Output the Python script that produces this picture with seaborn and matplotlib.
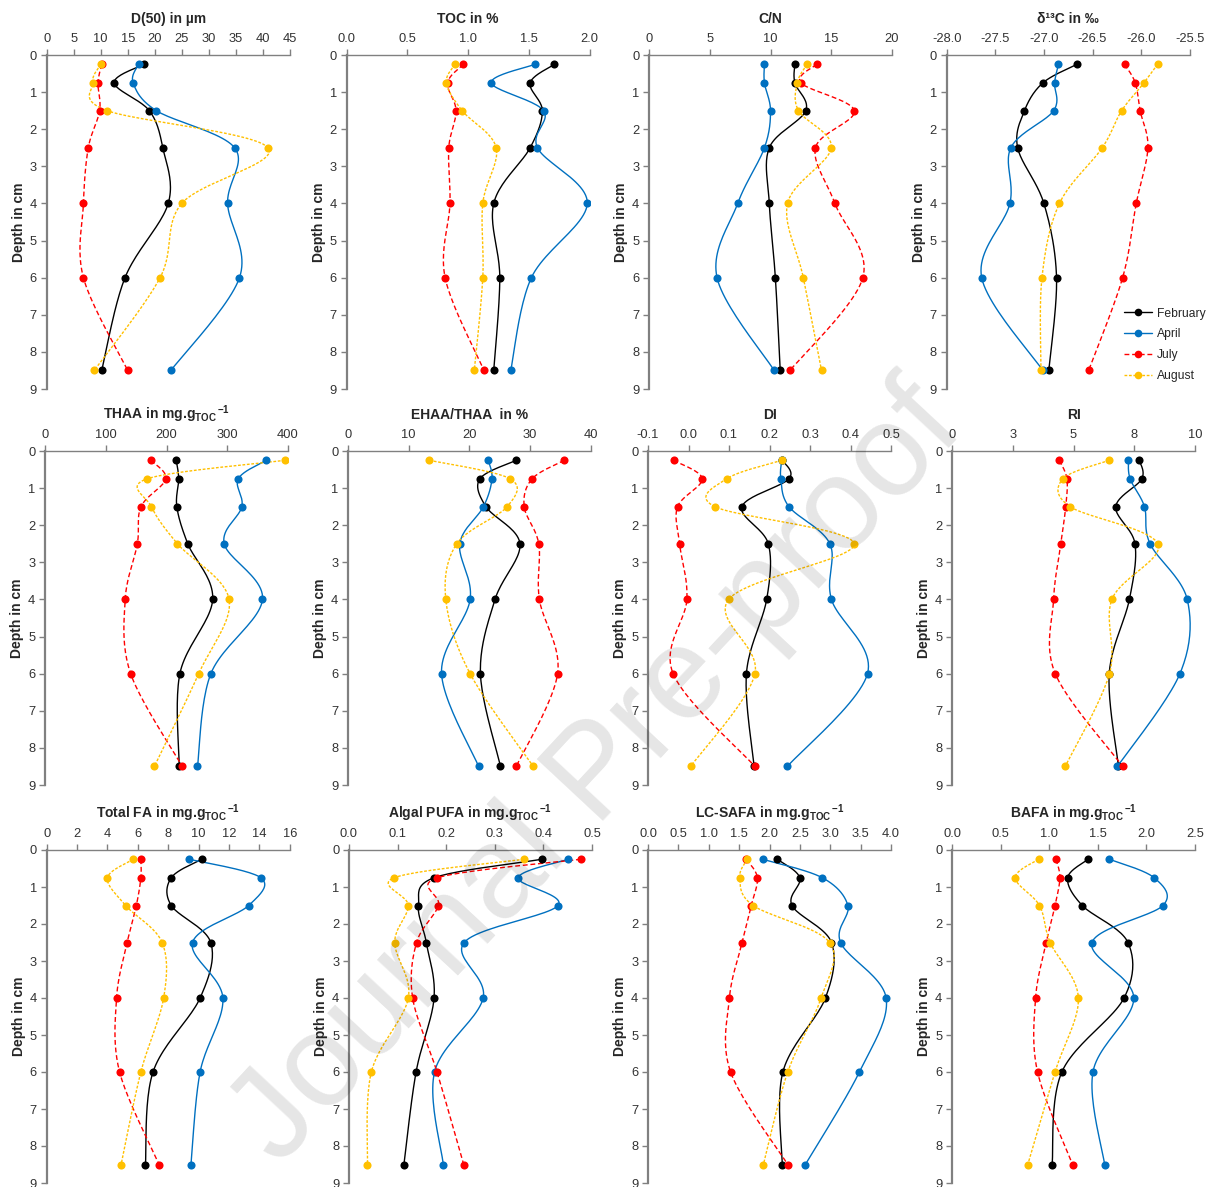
import numpy as np
import pandas as pd
import matplotlib
matplotlib.use("Agg")
import matplotlib.pyplot as plt
from matplotlib.lines import Line2D
import seaborn as sns

# ---------------- data ----------------
DEPTH = [0.25, 0.75, 1.5, 2.5, 4, 6, 8.5]
MONTHS = ["February", "April", "July", "August"]

D50 = {"February": [18.0, 12.5, 19.0, 21.5, 22.5, 14.5, 10.2],
       "April":    [17.0, 16.0, 20.3, 34.8, 33.5, 35.7, 23.0],
       "July":     [10.2, 9.5, 9.8, 7.7, 6.8, 6.8, 15.0],
       "August":   [10.0, 8.5, 11.2, 41.0, 25.0, 21.0, 8.8]}
TOC = {"February": [1.71, 1.51, 1.61, 1.51, 1.21, 1.26, 1.21],
       "April":    [1.55, 1.19, 1.62, 1.57, 1.98, 1.52, 1.35],
       "July":     [0.96, 0.83, 0.90, 0.84, 0.85, 0.81, 1.13],
       "August":   [0.89, 0.82, 0.95, 1.23, 1.12, 1.12, 1.05]}
CN = {"February": [12.0, 12.0, 12.9, 9.9, 9.9, 10.4, 10.8],
      "April":    [9.5, 9.5, 10.0, 9.5, 7.3, 5.6, 10.3],
      "July":     [13.8, 12.5, 16.9, 13.7, 15.3, 17.6, 11.6],
      "August":   [13.0, 12.2, 12.3, 15.0, 11.4, 12.7, 14.2]}
D13C = {"February": [-26.66, -27.01, -27.20, -27.27, -27.00, -26.87, -26.95],
        "April":    [-26.85, -26.89, -26.90, -27.34, -27.35, -27.64, -27.01],
        "July":     [-26.17, -26.06, -26.01, -25.93, -26.05, -26.19, -26.54],
        "August":   [-25.83, -25.97, -26.20, -26.40, -26.84, -27.02, -27.03]}
THAA = {"February": [216, 220, 217, 235, 276, 222, 221],
        "April":    [364, 318, 324, 295, 358, 273, 251],
        "July":     [174, 199, 158, 152, 132, 141, 226],
        "August":   [395, 168, 175, 218, 303, 253, 180]}
EHAA = {"February": [27.7, 21.7, 22.7, 28.3, 24.2, 21.8, 25.1],
        "April":    [23.1, 23.7, 22.3, 18.4, 20.1, 15.4, 21.5],
        "July":     [35.6, 30.3, 29.0, 31.4, 31.5, 34.5, 27.7],
        "August":   [13.4, 26.7, 26.2, 17.9, 16.1, 20.1, 30.5]}
DI = {"February": [0.232, 0.248, 0.132, 0.197, 0.193, 0.143, 0.162],
      "April":    [0.230, 0.228, 0.248, 0.349, 0.353, 0.442, 0.244],
      "July":     [-0.037, 0.034, -0.027, -0.022, -0.004, -0.038, 0.164],
      "August":   [0.230, 0.094, 0.065, 0.409, 0.099, 0.164, 0.005]}
RI = {"February": [7.71, 7.81, 6.74, 7.53, 7.30, 6.47, 6.85],
      "April":    [7.26, 7.33, 7.92, 8.15, 9.68, 9.38, 6.81],
      "July":     [4.42, 4.73, 4.68, 4.48, 4.18, 4.25, 7.03],
      "August":   [6.47, 4.56, 4.86, 8.47, 6.58, 6.48, 4.66]}
TFA = {"February": [10.2, 8.2, 8.2, 10.8, 10.1, 7.0, 6.5],
       "April":    [9.4, 14.1, 13.3, 9.6, 11.6, 10.1, 9.5],
       "July":     [6.2, 6.2, 5.9, 5.3, 4.6, 4.8, 7.4],
       "August":   [5.7, 4.0, 5.2, 7.6, 7.7, 6.2, 4.9]}
PUFA = {"February": [0.397, 0.175, 0.143, 0.159, 0.175, 0.138, 0.113],
        "April":    [0.451, 0.348, 0.430, 0.237, 0.276, 0.176, 0.194],
        "July":     [0.477, 0.182, 0.184, 0.139, 0.131, 0.181, 0.236],
        "August":   [0.360, 0.093, 0.122, 0.094, 0.122, 0.046, 0.038]}
SAFA = {"February": [2.13, 2.50, 2.37, 3.02, 2.92, 2.22, 2.21],
        "April":    [1.89, 2.87, 3.29, 3.17, 3.92, 3.48, 2.59],
        "July":     [1.62, 1.80, 1.70, 1.55, 1.34, 1.36, 2.30],
        "August":   [1.63, 1.51, 1.73, 2.99, 2.85, 2.30, 1.90]}
BAFA = {"February": [1.40, 1.19, 1.34, 1.81, 1.77, 1.13, 1.03],
        "April":    [1.62, 2.08, 2.17, 1.44, 1.87, 1.45, 1.57],
        "July":     [1.07, 1.11, 1.06, 0.97, 0.86, 0.88, 1.24],
        "August":   [0.89, 0.65, 0.90, 1.01, 1.30, 1.06, 0.78]}

UNIT = r"mg.g$_{\mathbf{TOC}}$$^{\,\mathbf{-1}}$"
TITLES = ["D(50) in µm", "TOC in %", "C/N", "δ¹³C in ‰",
          "THAA in " + UNIT, "EHAA/THAA  in %", "DI", "RI",
          "Total FA in " + UNIT, "Algal PUFA in " + UNIT,
          "LC-SAFA in " + UNIT, "BAFA in " + UNIT]
DATASETS = [D50, TOC, CN, D13C, THAA, EHAA, DI, RI, TFA, PUFA, SAFA, BAFA]
XTICKS = [[0, 5, 10, 15, 20, 25, 30, 35, 40, 45],
          [0.0, 0.5, 1.0, 1.5, 2.0],
          [0, 5, 10, 15, 20],
          [-28.0, -27.5, -27.0, -26.5, -26.0, -25.5],
          [0, 100, 200, 300, 400],
          [0, 10, 20, 30, 40],
          [-0.1, 0.0, 0.1, 0.2, 0.3, 0.4, 0.5],
          [0, 2.5, 5, 7.5, 10],
          [0, 2, 4, 6, 8, 10, 12, 14, 16],
          [0.0, 0.1, 0.2, 0.3, 0.4, 0.5],
          [0.0, 0.5, 1.0, 1.5, 2.0, 2.5, 3.0, 3.5, 4.0],
          [0.0, 0.5, 1.0, 1.5, 2.0, 2.5]]
XTICKLABELS = [None, "%.1f", None, "%.1f", None, None, "%.1f",
               ["0", "3", "5", "8", "10"], None, "%.1f", "%.1f", "%.1f"]
YTICKS = [0, 1, 2, 3, 4, 5, 6, 7, 8, 9]

# ---------------- style ----------------
sns.set_theme(style="white")
plt.rcParams["font.family"] = ["Liberation Sans", "DejaVu Sans"]
plt.rcParams["mathtext.fontset"] = "custom"
plt.rcParams["mathtext.rm"] = "Liberation Sans"
plt.rcParams["mathtext.bf"] = "Liberation Sans:bold"
plt.rcParams["mathtext.it"] = "Liberation Sans:italic"
plt.rcParams["axes.unicode_minus"] = False

COLORS = {"February": "#000000", "April": "#0070C0", "July": "#FF0000", "August": "#FFC000"}
LSTYLE = {"February": "-", "April": "-", "July": (0, (3.5, 2.0)), "August": (0, (2.0, 1.2))}

W_PX, H_PX = 1213, 1187
fig = plt.figure(figsize=(W_PX / 100, H_PX / 100), dpi=100)

ROW_TB = [(55, 389), (451, 785), (850, 1183)]
COL_L = [[46.7, 346.7, 649, 946.7], [45, 348, 648, 952], [46.7, 349, 648, 952]]
AX_W = 243.0


def bezier_path(xs, ys, x0, x1, w, h, n=24):
    px = (np.asarray(xs, float) - x0) / (x1 - x0) * w
    py = np.asarray(ys, float) / 9.0 * h
    P = np.column_stack([px, py])
    out = [P[0]]
    m = len(P)
    for i in range(m - 1):
        p0 = P[i - 1] if i > 0 else P[i]
        p1, p2 = P[i], P[i + 1]
        p3 = P[i + 2] if i + 2 < m else P[i + 1]
        c1 = p1 + (p2 - p0) / 6.0
        c2 = p2 - (p3 - p1) / 6.0
        t = np.linspace(0, 1, n)[1:, None]
        seg = ((1 - t) ** 3) * p1 + 3 * ((1 - t) ** 2) * t * c1 + 3 * (1 - t) * t ** 2 * c2 + t ** 3 * p2
        out.extend(seg)
    out = np.array(out)
    return out[:, 0] / w * (x1 - x0) + x0, out[:, 1] / h * 9.0


for k, (title, data) in enumerate(zip(TITLES, DATASETS)):
    r, c = divmod(k, 4)
    top, bot = ROW_TB[r]
    left = COL_L[r][c]
    ax = fig.add_axes([left / W_PX, 1 - bot / H_PX, AX_W / W_PX, (bot - top) / H_PX])
    ticks = XTICKS[k]
    x0, x1 = ticks[0], ticks[-1]
    h_px = bot - top
    for mth in MONTHS:
        sx, sy = bezier_path(data[mth], DEPTH, x0, x1, AX_W, h_px)
        ax.plot(sx, sy, color=COLORS[mth], linestyle=LSTYLE[mth], linewidth=1.0,
                solid_capstyle="butt", zorder=2)
        df = pd.DataFrame({"x": data[mth], "y": DEPTH})
        sns.scatterplot(data=df, x="x", y="y", ax=ax, color=COLORS[mth], s=34,
                        linewidth=0, zorder=3, legend=False)
    ax.set_xlim(x0, x1)
    ax.set_ylim(9, 0)
    ax.xaxis.set_ticks_position("top")
    ax.xaxis.set_label_position("top")
    ax.set_xticks(ticks)
    fmt = XTICKLABELS[k]
    if isinstance(fmt, list):
        ax.set_xticklabels(fmt)
    elif fmt is None:
        ax.set_xticklabels([str(int(round(t))) for t in ticks])
    else:
        ax.set_xticklabels([fmt % t for t in ticks])
    ax.set_yticks(YTICKS)
    ax.set_yticklabels([str(t) for t in YTICKS])
    ax.set_xlabel("")
    ax.set_ylabel("Depth in cm", fontsize=10, fontweight="bold", labelpad=3)
    ax.set_title(title, fontsize=10, fontweight="bold", y=1.0, pad=23)
    for side in ["right", "bottom"]:
        ax.spines[side].set_visible(False)
    ax.spines["left"].set_color("#808080")
    ax.spines["left"].set_linewidth(1.6)
    ax.spines["top"].set_color("#808080")
    ax.spines["top"].set_linewidth(1.0)
    ax.tick_params(axis="both", which="major", direction="out", length=4, width=1.0,
                   color="#808080", labelsize=9.3, labelcolor="#333333", pad=3)
    ax.tick_params(axis="x", top=True, bottom=False, labeltop=True, labelbottom=False)
    ax.tick_params(axis="y", left=True, right=False)
    ax.set_facecolor("none")
    ax.grid(False)

    if k == 3:
        handles = [Line2D([0], [0], color=COLORS[m], linestyle=LSTYLE[m], linewidth=1.0,
                          marker="o", markersize=5.5, markeredgewidth=0) for m in MONTHS]
        ax.legend(handles, MONTHS, loc="upper left", bbox_to_anchor=(0.71, 0.258),
                  frameon=False, fontsize=8.7, handlelength=2.3, handletextpad=0.4,
                  labelspacing=0.72, borderaxespad=0)

fig.text(598 / W_PX, 1 - 775 / H_PX, "Journal Pre-proof", fontsize=94, rotation=47,
         color="#000000", alpha=0.10, ha="center", va="center", zorder=10,
         family="Liberation Sans")

fig.savefig("out.png", dpi=100, facecolor="white")
